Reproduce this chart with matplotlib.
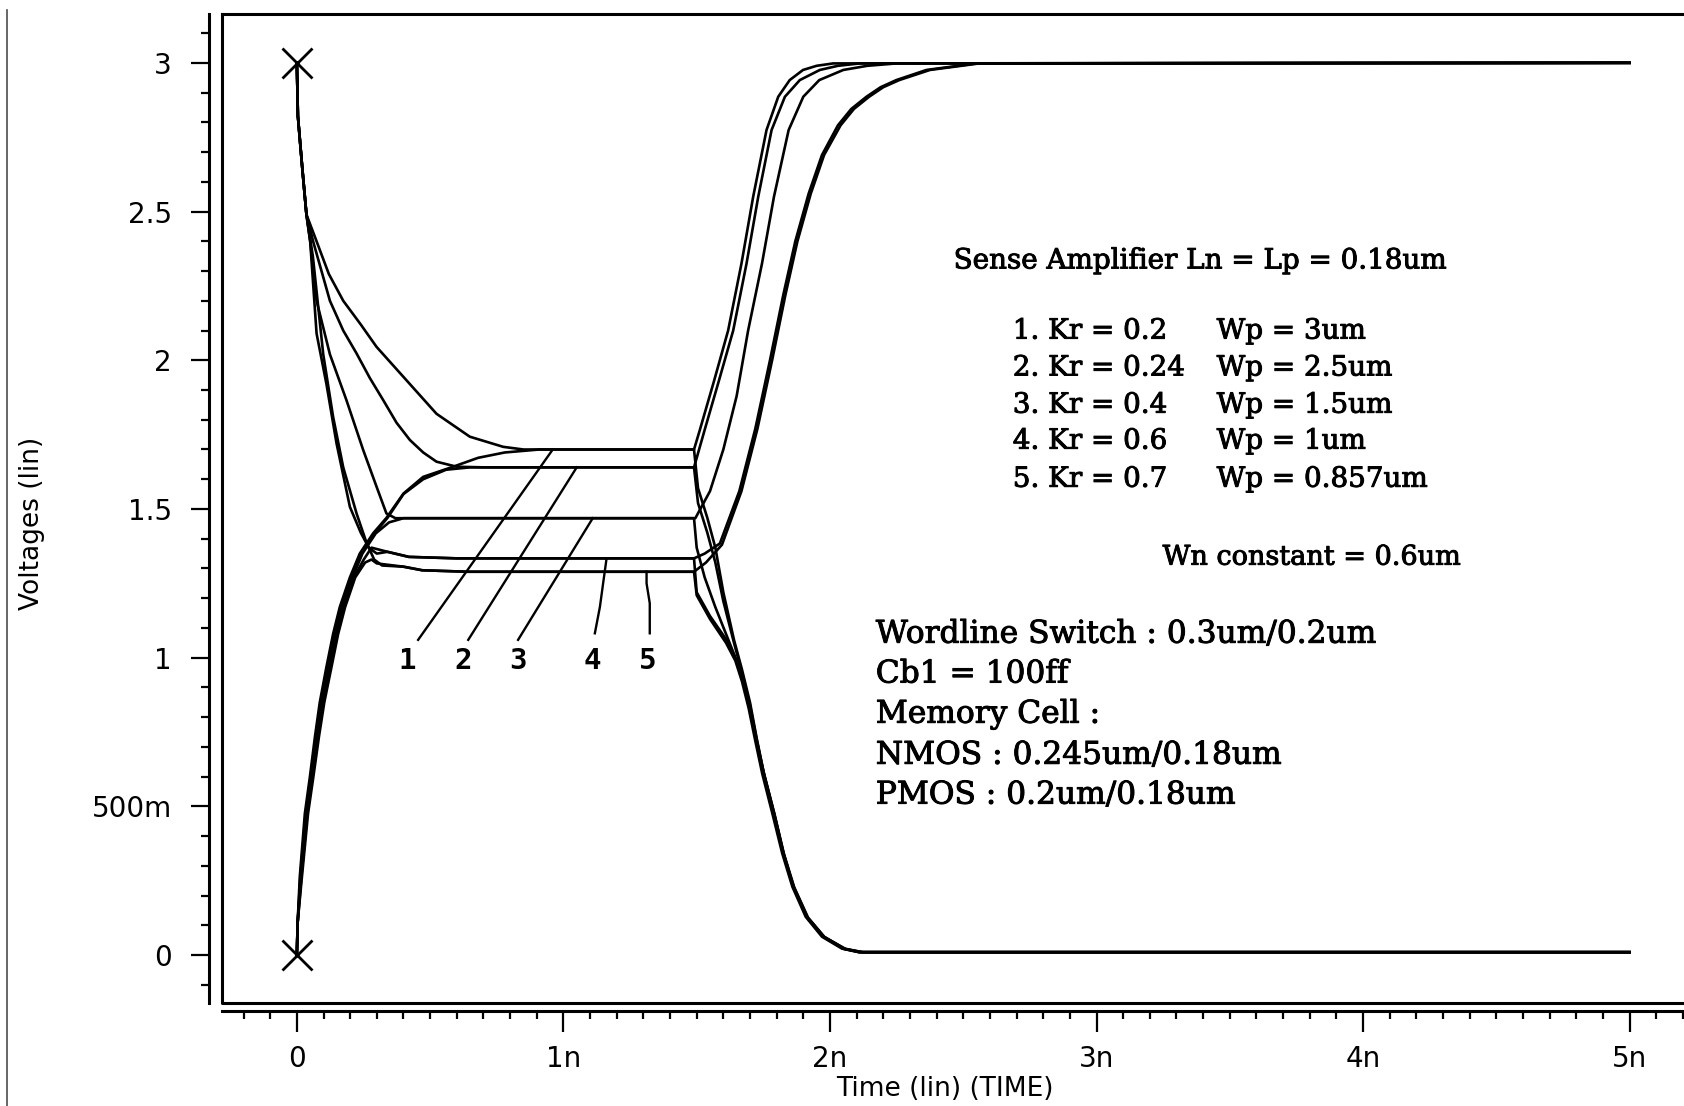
import numpy as np
import matplotlib
matplotlib.use('Agg')
import matplotlib.pyplot as plt
from matplotlib import font_manager
from matplotlib.ticker import MultipleLocator, FixedLocator, FixedFormatter
from matplotlib.lines import Line2D
import matplotlib.patheffects as pe

# Bit line pairs for the five sense amplifier sizings (time in ns, volts).
# "hi" node starts at 3 V and is pulled back up, "lo" node starts at 0 V and is pulled down.
hi1_t = [0.0, 0.004, 0.02, 0.036, 0.074, 0.12, 0.174, 0.24, 0.299, 0.399, 0.524, 0.649, 0.774, 0.85,
         1.49, 1.512, 1.565, 1.618, 1.668, 1.712, 1.762, 1.806, 1.849, 1.899, 1.95, 2.012, 5.0]
hi1_v = [3.0, 2.82, 2.65, 2.49, 2.40, 2.29, 2.20, 2.12, 2.045, 1.945, 1.82, 1.743, 1.709, 1.70,
         1.70, 1.766, 1.93, 2.10, 2.325, 2.55, 2.774, 2.886, 2.942, 2.976, 2.99, 2.998, 3.0]

hi2_t = [0.0, 0.004, 0.02, 0.036, 0.061, 0.124, 0.174, 0.224, 0.274, 0.324, 0.374, 0.424, 0.474, 0.524, 0.60, 0.70,
         1.49, 1.53, 1.583, 1.637, 1.687, 1.731, 1.781, 1.831, 1.887, 1.962, 2.03, 2.112, 5.0]
hi2_v = [3.0, 2.82, 2.65, 2.49, 2.40, 2.20, 2.10, 2.023, 1.94, 1.866, 1.79, 1.732, 1.69, 1.659, 1.642, 1.64,
         1.64, 1.766, 1.93, 2.10, 2.325, 2.55, 2.774, 2.886, 2.942, 2.976, 2.99, 2.998, 3.0]

hi3_t = [0.0, 0.004, 0.02, 0.036, 0.05, 0.074, 0.124, 0.186, 0.249, 0.299, 0.336, 0.37,
         1.495, 1.55, 1.60, 1.65, 1.693, 1.745, 1.79, 1.845, 1.90, 1.96, 2.05, 2.14, 2.25, 5.0]
hi3_v = [3.0, 2.82, 2.65, 2.49, 2.40, 2.20, 2.02, 1.866, 1.698, 1.575, 1.485, 1.469,
         1.469, 1.56, 1.70, 1.88, 2.10, 2.325, 2.55, 2.774, 2.886, 2.942, 2.976, 2.99, 2.998, 3.0]

hi4_t = [0.0, 0.004, 0.02, 0.036, 0.05, 0.074, 0.111, 0.149, 0.199, 0.24, 0.27, 0.30, 0.34, 0.42, 0.60,
         1.49, 1.53, 1.587, 1.66, 1.72, 1.775, 1.825, 1.87, 1.92, 1.97, 2.03, 2.08, 2.137, 2.19, 2.249, 2.362,
         2.549, 5.0]
hi4_v = [3.0, 2.82, 2.65, 2.49, 2.40, 2.09, 1.92, 1.72, 1.507, 1.42, 1.37, 1.35, 1.356, 1.339, 1.334,
         1.334, 1.35, 1.384, 1.56, 1.77, 2.0, 2.22, 2.40, 2.56, 2.69, 2.79, 2.845, 2.886, 2.918, 2.942, 2.976,
         2.998, 3.0]

hi5_t = [0.0, 0.004, 0.02, 0.036, 0.06, 0.099, 0.136, 0.174, 0.224, 0.26, 0.29, 0.32, 0.40, 0.47, 0.64,
         1.49, 1.535, 1.595, 1.668, 1.728, 1.783, 1.833, 1.878, 1.928, 1.978, 2.04, 2.09, 2.147, 2.20, 2.26, 2.375,
         2.56, 5.0]
hi5_v = [3.0, 2.82, 2.65, 2.49, 2.35, 2.02, 1.81, 1.64, 1.485, 1.39, 1.33, 1.31, 1.306, 1.294, 1.289,
         1.289, 1.32, 1.38, 1.56, 1.77, 2.0, 2.22, 2.40, 2.56, 2.69, 2.79, 2.845, 2.886, 2.918, 2.942, 2.976,
         2.998, 3.0]

lo1_t = [0.0, 0.003, 0.011, 0.03, 0.049, 0.068, 0.086, 0.111, 0.136, 0.161, 0.199, 0.236, 0.286, 0.336,
         0.40, 0.474, 0.586, 0.68, 0.78, 0.91,
         1.49, 1.505, 1.54, 1.57, 1.60, 1.64, 1.67, 1.70, 1.725, 1.75, 1.79, 1.825, 1.862, 1.912, 1.975, 2.05, 2.11, 5.0]
lo1_v = [0.0, 0.11, 0.263, 0.476, 0.60, 0.735, 0.85, 0.969, 1.08, 1.17, 1.27, 1.35, 1.418, 1.47,
         1.552, 1.608, 1.642, 1.672, 1.69, 1.70,
         1.70, 1.57, 1.47, 1.37, 1.22, 1.06, 0.96, 0.85, 0.73, 0.62, 0.48, 0.345, 0.232, 0.13, 0.063, 0.022, 0.01, 0.01]

lo2_t = [0.0, 0.003, 0.013, 0.033, 0.053, 0.072, 0.091, 0.116, 0.141, 0.166, 0.204, 0.241, 0.291, 0.34,
         0.40, 0.474, 0.56, 0.65,
         1.49, 1.505, 1.54, 1.57, 1.60, 1.64, 1.67, 1.70, 1.725, 1.752, 1.79, 1.826, 1.864, 1.915, 1.978, 2.055, 2.12, 5.0]
lo2_v = [0.0, 0.11, 0.263, 0.476, 0.60, 0.735, 0.85, 0.969, 1.08, 1.17, 1.27, 1.35, 1.418, 1.47,
         1.55, 1.60, 1.632, 1.64,
         1.64, 1.52, 1.42, 1.32, 1.19, 1.05, 0.95, 0.84, 0.725, 0.61, 0.476, 0.342, 0.23, 0.128, 0.062, 0.022, 0.01, 0.01]

lo3_t = [0.0, 0.003, 0.015, 0.036, 0.056, 0.076, 0.095, 0.121, 0.146, 0.171, 0.209, 0.246, 0.296, 0.346, 0.40,
         1.49, 1.50, 1.53, 1.57, 1.61, 1.65, 1.68, 1.705, 1.73, 1.755, 1.793, 1.828, 1.866, 1.918, 1.98, 2.06, 2.125, 5.0]
lo3_v = [0.0, 0.11, 0.263, 0.476, 0.60, 0.735, 0.85, 0.969, 1.08, 1.17, 1.27, 1.35, 1.418, 1.455, 1.469,
         1.469, 1.37, 1.27, 1.17, 1.08, 0.99, 0.90, 0.80, 0.70, 0.60, 0.47, 0.338, 0.228, 0.126, 0.06, 0.02, 0.01, 0.01]

lo4_t = [0.0, 0.003, 0.017, 0.039, 0.059, 0.079, 0.099, 0.125, 0.15, 0.176, 0.214, 0.251, 0.28, 0.34, 0.42, 0.60,
         1.49, 1.50, 1.55, 1.612, 1.649, 1.674, 1.699, 1.724, 1.749, 1.787, 1.824, 1.862, 1.912, 1.974, 2.049, 2.112, 5.0]
lo4_v = [0.0, 0.11, 0.263, 0.476, 0.60, 0.735, 0.85, 0.969, 1.08, 1.17, 1.27, 1.33, 1.37, 1.356, 1.339, 1.334,
         1.334, 1.22, 1.14, 1.06, 0.992, 0.925, 0.835, 0.722, 0.61, 0.476, 0.342, 0.23, 0.129, 0.062, 0.022, 0.01, 0.01]

lo5_t = [0.0, 0.003, 0.019, 0.042, 0.062, 0.083, 0.103, 0.13, 0.155, 0.181, 0.219, 0.256, 0.28, 0.30, 0.40, 0.47, 0.64,
         1.49, 1.50, 1.55, 1.61, 1.645, 1.67, 1.695, 1.72, 1.746, 1.784, 1.821, 1.859, 1.909, 1.97, 2.045, 2.108, 5.0]
lo5_v = [0.0, 0.11, 0.263, 0.476, 0.60, 0.735, 0.85, 0.969, 1.08, 1.17, 1.27, 1.32, 1.33, 1.317, 1.306, 1.294, 1.289,
         1.289, 1.21, 1.13, 1.05, 0.99, 0.92, 0.83, 0.72, 0.61, 0.476, 0.342, 0.23, 0.129, 0.062, 0.022, 0.01, 0.01]

# initial conditions marked with crosses
start_t = [0.0, 0.0]
start_v = [3.0, 0.0]

# numbered call-outs pointing at the settled levels
callout_names = ['1', '2', '3', '4', '5']
callout_t = [0.414, 0.624, 0.830, 1.109, 1.318]
callout_v = [0.99, 0.99, 0.99, 0.99, 0.99]
lead_t = [[0.455, 0.96], [0.643, 1.05], [0.830, 1.11],
          [1.118, 1.137, 1.149, 1.162], [1.324, 1.324, 1.312, 1.312]]
lead_v = [[1.06, 1.70], [1.06, 1.64], [1.06, 1.469],
          [1.082, 1.171, 1.25, 1.334], [1.082, 1.183, 1.25, 1.289]]

kr_rows = ['1. Kr = 0.2', '2. Kr = 0.24', '3. Kr = 0.4', '4. Kr = 0.6', '5. Kr = 0.7']
wp_rows = ['Wp = 3um', 'Wp = 2.5um', 'Wp = 1.5um', 'Wp = 1um', 'Wp = 0.857um']
cell_rows = ['Wordline Switch : 0.3um/0.2um', 'Cb1 = 100ff', 'Memory Cell :',
             'NMOS : 0.245um/0.18um', 'PMOS : 0.2um/0.18um']

x_major = [0, 1, 2, 3, 4, 5]
x_labels = ['0', '1n', '2n', '3n', '4n', '5n']
y_major = [0, 0.5, 1, 1.5, 2, 2.5, 3]
y_labels = ['0', '500m', '1', '1.5', '2', '2.5', '3']

# narrow sans for the axis lettering if it is around
installed = {f.name for f in font_manager.fontManager.ttflist}
if 'Liberation Sans Narrow' in installed:
    axis_font, tick_size, label_size = 'Liberation Sans Narrow', 22, 22
else:
    axis_font, tick_size, label_size = 'DejaVu Sans', 20, 19

fig = plt.figure(figsize=(16.84, 11.06), dpi=100)
ax = fig.add_axes([0.1318, 0.0931, 0.878, 0.8942])
ax.set_xlim(-0.281, 5.266)
ax.set_ylim(-0.161, 3.164)

for t, v in [(hi1_t, hi1_v), (hi2_t, hi2_v), (hi3_t, hi3_v), (hi4_t, hi4_v), (hi5_t, hi5_v),
             (lo1_t, lo1_v), (lo2_t, lo2_v), (lo3_t, lo3_v), (lo4_t, lo4_v), (lo5_t, lo5_v)]:
    ax.plot(t, v, color='black', lw=1.9)

ax.plot(start_t, start_v, ls='none', marker='x', ms=22, mew=2.0, color='black')

for lt, lv in zip(lead_t, lead_v):
    ax.plot(lt, lv, color='black', lw=1.7)
for name, t, v in zip(callout_names, callout_t, callout_v):
    ax.text(t, v, name, ha='center', va='center', fontsize=21, family='DejaVu Sans Mono', weight='bold')

# annotation block, slightly heavier strokes
heavy = [pe.withStroke(linewidth=0.7, foreground='black')]
serif = 'DejaVu Serif'
ax.text(2.464, 2.334, 'Sense Amplifier Ln = Lp = 0.18um', fontsize=20, family=serif, va='center',
        path_effects=heavy)
row_v = [2.098, 1.974, 1.849, 1.728, 1.60]
for kr, wp, v in zip(kr_rows, wp_rows, row_v):
    ax.text(2.686, v, kr, fontsize=20, family=serif, va='center', path_effects=heavy)
    ax.text(3.451, v, wp, fontsize=20, family=serif, va='center', path_effects=heavy)
ax.text(3.248, 1.338, 'Wn constant = 0.6um', fontsize=19.5, family=serif, va='center', path_effects=heavy)
cell_v = [1.079, 0.945, 0.81, 0.672, 0.538]
for txt, v in zip(cell_rows, cell_v):
    ax.text(2.172, v, txt, fontsize=22.5, family=serif, va='center', path_effects=heavy)

# frame: box on top/left/bottom, axis lines pushed outward
ax.spines['top'].set_linewidth(2.2)
ax.spines['right'].set_visible(False)
ax.spines['left'].set_position(('outward', 9))
ax.spines['bottom'].set_position(('outward', 6))
ax.spines['left'].set_linewidth(2.2)
ax.spines['bottom'].set_linewidth(2.2)
ax.plot([0, 0, 1.05], [1, 0, 0], transform=ax.transAxes, color='black', lw=2.2, clip_on=False)

ax.xaxis.set_major_locator(FixedLocator(x_major))
ax.xaxis.set_major_formatter(FixedFormatter(x_labels))
ax.xaxis.set_minor_locator(MultipleLocator(0.1))
ax.yaxis.set_major_locator(FixedLocator(y_major))
ax.yaxis.set_major_formatter(FixedFormatter(y_labels))
ax.yaxis.set_minor_locator(MultipleLocator(0.1))

ax.tick_params(axis='y', which='major', direction='out', length=13, width=1.6, pad=14, labelsize=tick_size)
ax.tick_params(axis='y', which='minor', direction='out', length=6, width=1.6)
ax.tick_params(axis='x', which='major', direction='out', length=15, width=1.6, pad=9, labelsize=tick_size)
ax.tick_params(axis='x', which='minor', direction='out', length=6, width=1.6)
for lab in ax.get_xticklabels() + ax.get_yticklabels():
    lab.set_family(axis_font)

fig.text(0.561, 0.015, 'Time (lin) (TIME)', ha='center', va='center', fontsize=label_size, family=axis_font)
fig.text(0.019, 0.527, 'Voltages (lin)', ha='center', va='center', rotation=90, fontsize=label_size,
         family=axis_font)

# page edge on the far left
fig.add_artist(Line2D([0.0042, 0.0042], [0.0, 0.991], transform=fig.transFigure, color='0.3', lw=1.2))

fig.savefig('out.png', dpi=100, facecolor='white')
